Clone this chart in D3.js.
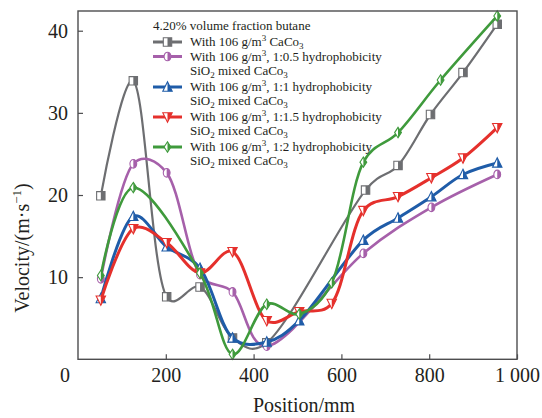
<!DOCTYPE html>
<html>
<head>
<meta charset="utf-8">
<script src="https://cdn.jsdelivr.net/npm/d3@7"></script>
<style>
  body { margin: 0; background: #fff; }
</style>
</head>
<body>
<svg id="chart" width="542" height="418"></svg>
<script>
// data
const greyPos = [52, 126, 202, 278, 352, 430, 655, 729, 803, 877, 955];
const greyVal = [19.9, 33.9, 7.6, 8.8, 2.6, 2.0, 20.6, 23.6, 29.8, 34.9, 40.8];

const purplePos = [52, 126, 202, 278, 352, 430, 650, 805, 955];
const purpleVal = [9.8, 23.8, 22.7, 10.3, 8.2, 1.6, 12.9, 18.5, 22.5];

const bluePos = [52, 126, 202, 278, 352, 430, 504, 650, 729, 805, 877, 955];
const blueVal = [7.4, 17.4, 13.7, 11.1, 2.6, 2.1, 4.7, 14.5, 17.2, 19.8, 22.5, 23.9];

const redPos = [52, 126, 202, 278, 352, 430, 504, 578, 650, 729, 805, 877, 955];
const redVal = [7.2, 15.9, 14.2, 10.5, 13.1, 4.7, 5.8, 6.8, 18.1, 19.8, 22.1, 24.5, 28.2];

const greenPos = [52, 126, 278, 352, 430, 504, 578, 650, 729, 826, 955];
const greenVal = [10.2, 20.9, 10.5, 0.6, 6.7, 5.5, 9.3, 24.0, 27.6, 34.0, 41.8];

const xTicks = [200, 400, 600, 800, 1000];
const yTicks = [10, 20, 30, 40];

const series = [
  { pos: greyPos, val: greyVal, color: '#6d6e71', shape: 'square', w: 2.2 },
  { pos: purplePos, val: purpleVal, color: '#a660aa', shape: 'circle', w: 2.6 },
  { pos: bluePos, val: blueVal, color: '#1f5ca8', shape: 'up', w: 3 },
  { pos: redPos, val: redVal, color: '#e5302c', shape: 'down', w: 3 },
  { pos: greenPos, val: greenVal, color: '#3f9a3c', shape: 'diamond', w: 2.6 }
];

const plotL = 78, plotR = 517, plotT = 11, plotB = 359.3;
const serif = '"Liberation Serif", serif';

const x = d3.scaleLinear().domain([0, 1000]).range([plotL, plotR]);
const y = d3.scaleLinear().domain([0, 42.4]).range([plotB, plotT]);

const svg = d3.select('#chart').style('font-family', serif);

// marker shapes: full outline + filled right half
function markerPaths(shape) {
  const s = 4.2;
  if (shape == 'square') {
    return [`M${-s},${-s}H${s}V${s}H${-s}Z`, `M0,${-s}H${s}V${s}H0Z`];
  }
  if (shape == 'circle') {
    const rx = 3.4, ry = 4.3;
    return [`M0,${-ry}A${rx},${ry} 0 1,1 0,${ry}A${rx},${ry} 0 1,1 0,${-ry}Z`,
            `M0,${-ry}A${rx},${ry} 0 0,1 0,${ry}Z`];
  }
  if (shape == 'up') {
    return [`M0,${-s - 1}L${s + 0.5},${s}L${-s - 0.5},${s}Z`, `M0,${-s - 1}L${s + 0.5},${s}L0,${s}Z`];
  }
  if (shape == 'down') {
    return [`M0,${s + 1}L${s + 0.5},${-s}L${-s - 0.5},${-s}Z`, `M0,${s + 1}L${s + 0.5},${-s}L0,${-s}Z`];
  }
  // diamond
  return [`M0,${-s - 1}L${s - 0.8},0L0,${s + 1}L${-s + 0.8},0Z`, `M0,${-s - 1}L${s - 0.8},0L0,${s + 1}Z`];
}

function drawMarker(g, shape, color, cx, cy) {
  const p = markerPaths(shape);
  const m = g.append('g').attr('transform', `translate(${cx},${cy})`);
  m.append('path').attr('d', p[0]).attr('fill', '#fff').attr('stroke', color).attr('stroke-width', 1.1);
  m.append('path').attr('d', p[1]).attr('fill', color);
}

const line = d3.line()
  .x(d => x(d[0]))
  .y(d => y(d[1]))
  .curve(d3.curveCatmullRom.alpha(0.25));

const plot = svg.append('g');
series.forEach(s => {
  const pts = s.pos.map((p, i) => [p, s.val[i]]);
  plot.append('path')
    .attr('d', line(pts))
    .attr('fill', 'none')
    .attr('stroke', s.color)
    .attr('stroke-width', s.w);
  pts.forEach(d => drawMarker(plot, s.shape, s.color, x(d[0]), y(d[1])));
});

// frame
svg.append('rect')
  .attr('x', plotL).attr('y', plotT)
  .attr('width', plotR - plotL).attr('height', plotB - plotT)
  .attr('fill', 'none').attr('stroke', '#4d4d4f').attr('stroke-width', 1.4);

// axes with inward ticks
const xAxis = svg.append('g').attr('transform', `translate(0,${plotB})`)
  .call(d3.axisBottom(x).tickValues(xTicks).tickSize(-5).tickPadding(9)
    .tickFormat(d => d == 1000 ? '1 000' : d));
const yAxis = svg.append('g').attr('transform', `translate(${plotL},0)`)
  .call(d3.axisLeft(y).tickValues(yTicks).tickSize(-5).tickPadding(10));

[xAxis, yAxis].forEach(a => {
  a.attr('font-size', 20);
  a.select('.domain').remove();
  a.selectAll('line').attr('stroke', '#4d4d4f').attr('stroke-width', 1.2);
  a.selectAll('text').style('font-family', serif).attr('fill', '#231f20');
});

function addText(g, px, py, size) {
  return g.append('text').attr('x', px).attr('y', py).attr('font-size', size)
    .style('font-family', serif).attr('fill', '#231f20');
}

// corner zero
addText(svg, 70, 382, 20).attr('text-anchor', 'end').text('0');

// axis titles
addText(svg, 304, 412, 20).attr('text-anchor', 'middle').text('Position/mm');

const yt = addText(svg, 0, 0, 20).attr('transform', 'translate(29,248) rotate(-90)')
  .attr('text-anchor', 'middle');
yt.append('tspan').text('Velocity/(m·s');
yt.append('tspan').attr('font-size', 13).attr('dy', -8).text('−1');
yt.append('tspan').attr('dy', 8).text(')');

// legend
const lg = svg.append('g');
addText(lg, 153, 29.5, 13).text('4.20% volume fraction butane');

const legendRatios = [null, '1:0.5', '1:1', '1:1.5', '1:2'];
const legendY = [46, 60.5, 91, 121, 151];

function sub(t, txt) {
  t.append('tspan').attr('font-size', 9).attr('dy', 3).text(txt);
}
function sup(t, txt) {
  t.append('tspan').attr('font-size', 9).attr('dy', -5).text(txt);
}

series.forEach((s, i) => {
  const by = legendY[i];
  lg.append('line').attr('x1', 153).attr('x2', 182).attr('y1', by - 4).attr('y2', by - 4)
    .attr('stroke', s.color).attr('stroke-width', 3);
  drawMarker(lg, s.shape, s.color, 167.5, by - 4);

  const t = addText(lg, 190, by, 13);
  t.append('tspan').text('With 106 g/m');
  sup(t, '3');
  if (legendRatios[i] == null) {
    t.append('tspan').attr('dy', 5).text(' CaCo');
    sub(t, '3');
  } else {
    t.append('tspan').attr('dy', 5).text(', ' + legendRatios[i] + ' hydrophobicity');
    const t2 = addText(lg, 190, by + 14, 13);
    t2.append('tspan').text('SiO');
    sub(t2, '2');
    t2.append('tspan').attr('dy', -3).text(' mixed CaCo');
    sub(t2, '3');
  }
});
</script>
</body>
</html>
